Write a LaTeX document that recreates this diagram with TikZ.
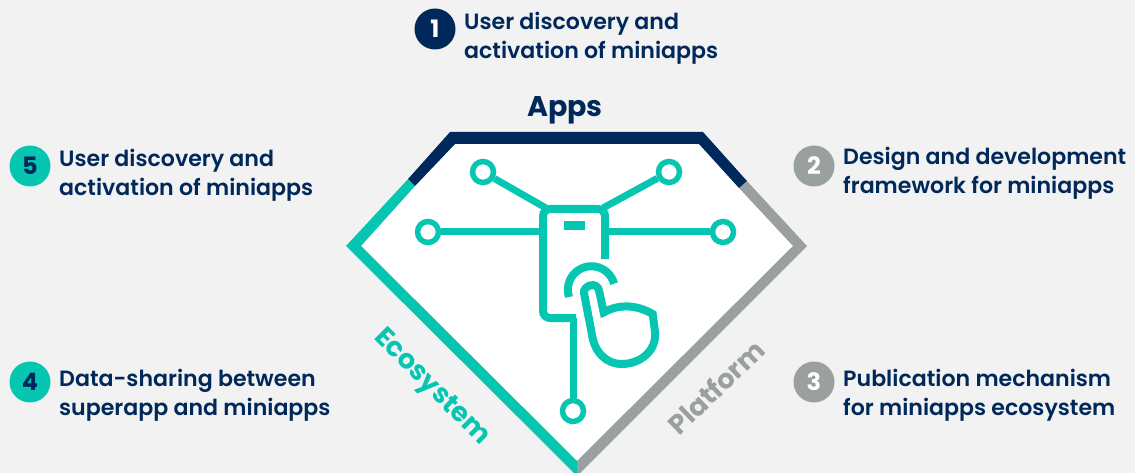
\documentclass[tikz,border=0pt]{standalone}
\usepackage{fontspec}
\setmainfont{Poppins SemiBold}[BoldFont={Poppins Bold}]
\definecolor{bgc}{HTML}{F2F2F2}
\definecolor{navy}{HTML}{00285A}
\definecolor{teal}{HTML}{06C6B2}
\definecolor{greyc}{HTML}{9AA0A0}
\tikzset{
  numdot/.style={circle,minimum size=41pt,inner sep=0pt,text=#1,font=\fontsize{24}{24}\selectfont\bfseries},
  lab/.style={anchor=base west,inner sep=0pt,text=navy,align=left,font=\fontsize{22.1}{29}\selectfont},
  end/.style={circle,draw=teal,line width=5.5pt,fill=white,minimum size=21pt,inner sep=0pt},
  wire/.style={draw=teal,line width=7pt},
  side/.style={font=\fontsize{27}{27}\selectfont\bfseries,inner sep=0pt}
}
\begin{document}
\begin{tikzpicture}[x=1pt,y=-1pt]
\useasboundingbox (0,0) rectangle (1135,473);
\fill[bgc] (0,0) rectangle (1135,473);
% diamond
\clip (0,0) rectangle (1135,473);
\fill[white] (450,132)--(703,132)--(807,246)--(577,476)--(346,246)--cycle;
\fill[teal] (408,179)--(346,246)--(577,476)--(577,461)--(361,246)--(415,186)--cycle;
\fill[greyc] (747,181)--(807,246)--(577,476)--(577,461)--(793,246)--(739,188)--cycle;
\fill[navy] (408,179)--(450,132)--(703,132)--(747,181)--(739,188)--(699,144)--(455,144)--(415,186)--cycle;
% icon
\coordinate (pl) at (543,232);
\coordinate (pr) at (605,232);
\coordinate (ptl) at (546,208);
\coordinate (ptr) at (603,208);
\coordinate (ps) at (573,318);
\node[end] (a) at (483,172) {};
\node[end] (b) at (669,172) {};
\node[end] (c) at (428,232) {};
\node[end] (d) at (723,232) {};
\node[end] (e) at (573,411) {};
\draw[wire] (a)--(ptl);
\draw[wire] (b)--(ptr);
\draw[wire] (c)--(pl);
\draw[wire] (d)--(pr);
\draw[wire] (ps)--(e);
\draw[wire,line width=8pt,rounded corners=7pt] (576,318)--(543,318)--(543,209)--(605,209)--(605,259);
\fill[teal] (564,221) rectangle (585,230);
\draw[wire,line width=8pt] (569,297) arc[start angle=162,end angle=345,radius=23.5];
\draw[wire,line width=8pt,line join=miter] (591.7,333)--(584,293.3)
  .. controls (582.5,286) and (597.5,280) .. (599.3,291.7)
  -- (603.7,312.3)
  .. controls (620,303.5) and (637,305) .. (652.7,314)
  -- (655,331.7)
  .. controls (657,350) and (641,364) .. (621.7,364)
  .. controls (606,364) and (594,352) .. (591.7,333) -- cycle;
% numbers
\node[numdot=white,fill=navy] (n1) at (435,29) {1};
\node[numdot=white,fill=greyc] (n2) at (814,166) {2};
\node[numdot=white,fill=greyc] (n3) at (814,382) {3};
\node[numdot=navy,fill=teal] (n4) at (30,382) {4};
\node[numdot=navy,fill=teal] (n5) at (30,166) {5};
% labels
\node[lab] (t1) at (464,59) {User discovery and\\activation of miniapps};
\node[lab] (t2) at (843,194) {Design and development\\framework for miniapps};
\node[lab] (t3) at (843,415) {Publication mechanism\\for miniapps ecosystem};
\node[lab] (t4) at (59,415) {Data-sharing between\\superapp and miniapps};
\node[lab] (t5) at (59,196) {User discovery and\\activation of miniapps};
\node[side,text=navy,font=\fontsize{28.5}{28.5}\selectfont\bfseries] (apps) at (565,110) {Apps};
\node[side,text=teal,rotate=-45] (eco) at (431,388) {Ecosystem};
\node[side,text=greyc,rotate=44] (plat) at (716,387) {Platform};
\end{tikzpicture}
\end{document}
